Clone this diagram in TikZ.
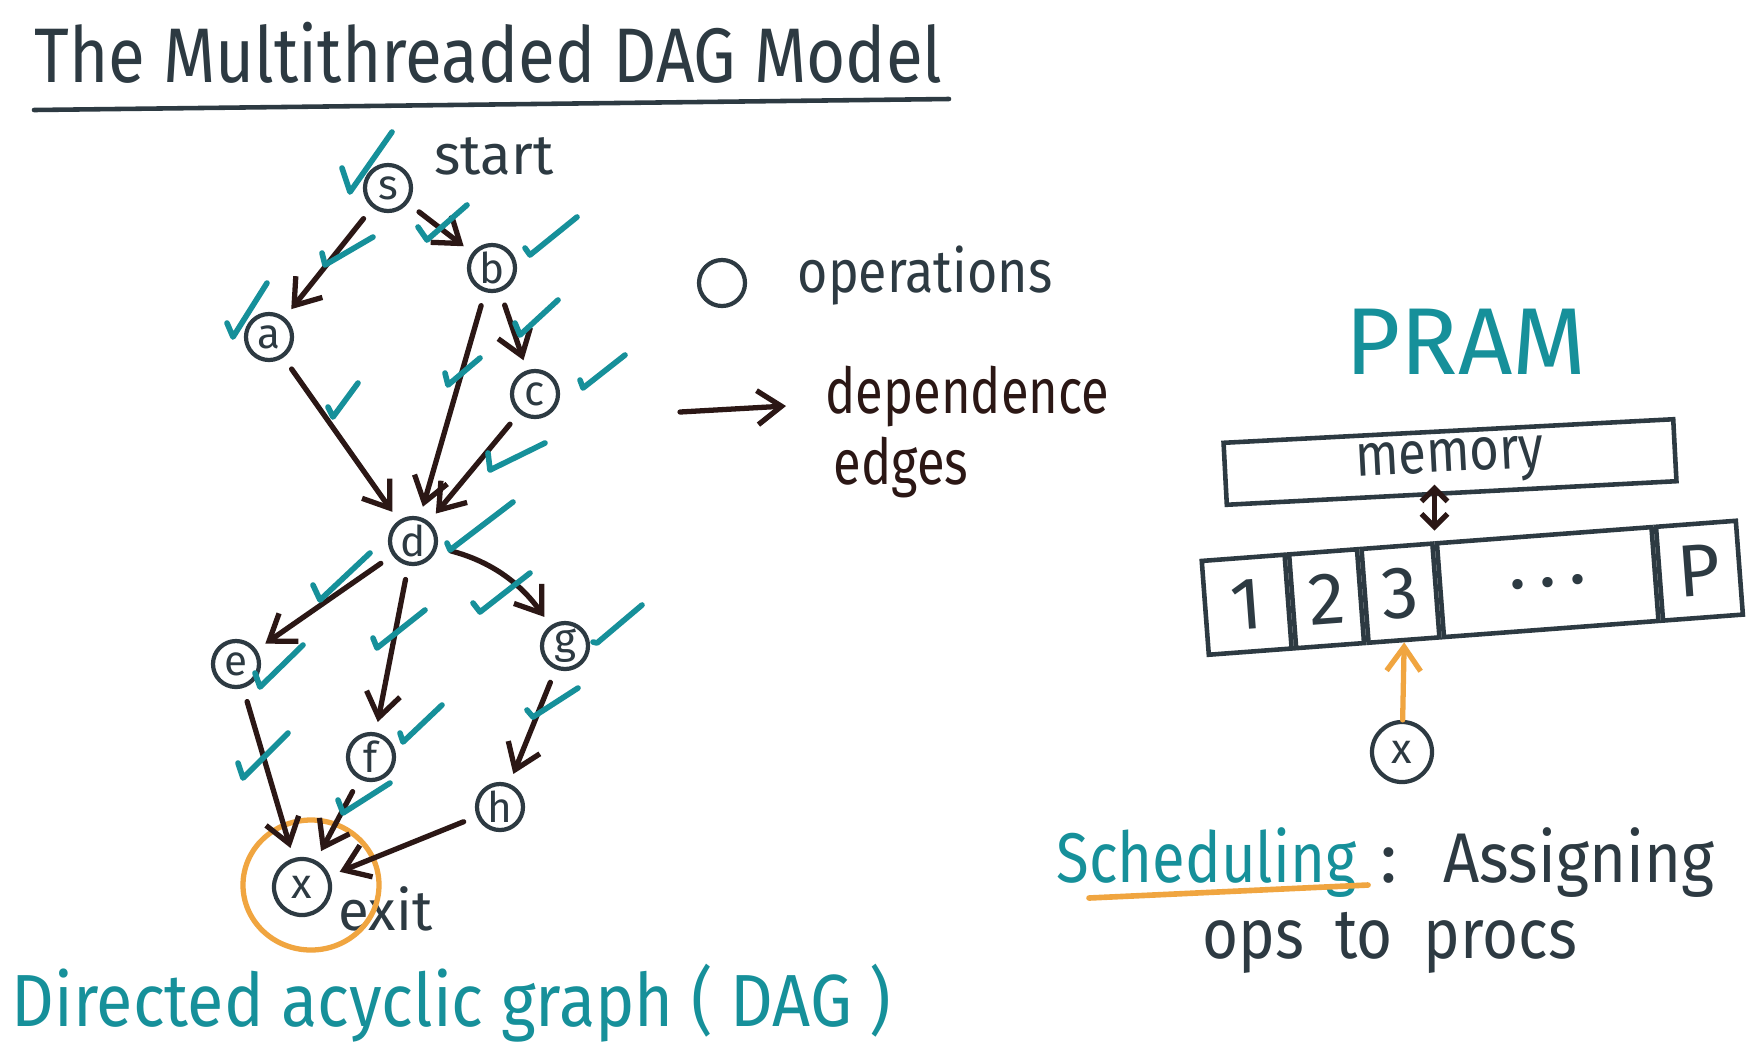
\documentclass[tikz,border=0pt]{standalone}
\usepackage{fontspec}
\setmainfont{Fira Sans}
\usetikzlibrary{arrows.meta,positioning}
\definecolor{slate}{HTML}{2D3A42}
\definecolor{ink}{HTML}{2B1715}
\definecolor{tealink}{HTML}{16909A}
\definecolor{marker}{HTML}{F0A540}

\tikzset{
  op/.style={circle,draw=slate,line width=1.2pt,minimum size=0.46cm,inner sep=0pt,text=slate,font=\fontsize{12}{12}\selectfont},
  dep/.style={draw=ink,line width=1.5pt,line cap=round,-{Straight Barb[length=2.4mm,width=3.4mm]},shorten >=3pt,shorten <=4pt},
  chk/.style={draw=tealink,line width=1.6pt,line cap=round,line join=round},
  hand/.style={anchor=base west,inner sep=0pt,text=slate},
  cell/.style={draw=slate,line width=1.3pt,rotate=4.3,anchor=west,minimum height=0.94cm,inner sep=0pt,text=slate,font=\fontsize{21}{21}\selectfont},
}

\begin{document}
\begin{tikzpicture}[x=0.01cm,y=-0.01cm]
\useasboundingbox[fill=white] (0,0) rectangle (1761,1060);
\node[hand,xscale=0.87,font=\fontsize{22}{26}\selectfont] (title) at (34,82) {The Multithreaded DAG Model};
\draw[slate,line width=1.3pt,line cap=round] (34,110) -- (949,99);

\node[op] (s) at (388,188) {s};
\node[op] (b) at (492,268) {b};
\node[op] (a) at (269,337) {a};
\node[op] (c) at (535,394) {c};
\node[op] (d) at (413,541) {d};
\node[op] (e) at (236,664) {e};
\node[op] (g) at (565,646) {g};
\node[op] (f) at (371,757) {f};
\node[op] (h) at (500,807) {h};
\node[op,minimum size=0.56cm] (x) at (302,887) {x};
\node[hand,font=\fontsize{16}{16}\selectfont] (start) at (434,174) {start};
\node[hand,font=\fontsize{16}{16}\selectfont] (exit) at (338,930) {exit};
\draw[marker,line width=1.5pt] (311,885) ellipse (68 and 65);

\draw[dep] (s) -- (a);
\draw[dep] (s) -- (b);
\draw[dep] (a) -- (d);
\draw[dep] (b) -- (d);
\draw[dep] (b) -- (c);
\draw[dep] (c) -- (d);
\draw[dep] (d) -- (e);
\draw[dep] (d) -- (f);
\draw[dep] (d) to[bend left=20] (g);
\draw[dep] (e) -- (x);
\draw[dep] (f) -- (x);
\draw[dep] (g) -- (h);
\draw[dep] (h) -- (x);

\foreach \ax/\ay/\bx/\by/\cx/\cy in {
  342/168/350/192/392/132, 418/227/427/240/467/205, 525/248/530/255/577/217,
  322/253/325/265/373/237, 227/323/233/337/267/283, 515/323/520/335/558/300,
  580/380/583/388/625/355, 328/407/333/417/358/383, 445/373/448/385/480/358,
  488/453/490/470/545/443, 447/543/450/550/513/502, 313/585/320/600/370/553,
  373/638/377/648/425/610, 473/603/480/612/530/573, 593/642/597/643/642/605,
  255/673/260/687/303/645, 238/763/243/778/288/733, 400/733/403/742/442/705,
  527/710/533/717/578/688, 338/800/343/813/390/783}
  \draw[chk] (\ax,\ay) -- (\bx,\by) -- (\cx,\cy);

\node[op,minimum size=0.46cm] (opkey) at (722,283) {};
\node[hand,xscale=0.87,font=\fontsize{17}{17}\selectfont] (optext) at (797,292) {operations};
\coordinate (depa) at (680,412);
\coordinate (depb) at (786,406);
\draw[dep,shorten <=0pt,shorten >=0pt] (depa) -- (depb);
\node[hand,text=ink,xscale=0.8,font=\fontsize{18}{18}\selectfont] (deptext) at (825,413) {dependence};
\node[hand,text=ink,xscale=0.8,font=\fontsize{18}{18}\selectfont] (edgetext) at (833,484) {edges};

\node[text=tealink,font=\fontsize{27}{27}\selectfont] (pram) at (1466,342) {PRAM};
\node[draw=slate,line width=1.3pt,rotate=3,minimum width=4.5cm,minimum height=0.62cm,inner sep=0pt,text=slate,font=\fontsize{17}{17}\selectfont] (mem) at (1450,462) {\scalebox{0.85}[1]{memory}};
\node[cell,minimum width=0.83cm] (p1) at (1203,608) {1};
\node[cell,minimum width=0.68cm] (p2) at (p1.east) {2};
\node[cell,minimum width=0.71cm] (p3) at (p2.east) {3};
\node[cell,minimum width=2.15cm] (pdots) at (p3.east) {.\,.\,.};
\node[cell,minimum width=0.8cm] (pP) at (pdots.east) {P};
\draw[dep,{Straight Barb[length=1.3mm,width=2.6mm]}-{Straight Barb[length=1.3mm,width=2.6mm]},shorten <=3pt,shorten >=-3pt] (p3.north east) -- (p3.north east |- mem.south);
\node[op,minimum size=0.6cm] (job) at (1402,752) {x};
\draw[dep,draw=marker,shorten >=0pt,shorten <=0pt] (job) -- (p3.south);

\node[hand,text=tealink,xscale=0.85,font=\fontsize{20}{20}\selectfont] (sched) at (1056,882) {Scheduling};
\draw[marker,line width=1.6pt,line cap=round] (1089,898) -- (1368,885);
\node[hand,font=\fontsize{20}{20}\selectfont] (colon) at (1380,882) {:};
\node[hand,xscale=0.9,font=\fontsize{20}{20}\selectfont] (assign) at (1443,882) {Assigning};
\node[hand,xscale=0.88,font=\fontsize{20}{20}\selectfont] (opsto) at (1202,958) {ops\enspace to\enspace procs};

\node[hand,text=tealink,xscale=0.9,font=\fontsize{21}{21}\selectfont] (dag) at (11,1026) {Directed acyclic graph ( DAG )};
\end{tikzpicture}
\end{document}
